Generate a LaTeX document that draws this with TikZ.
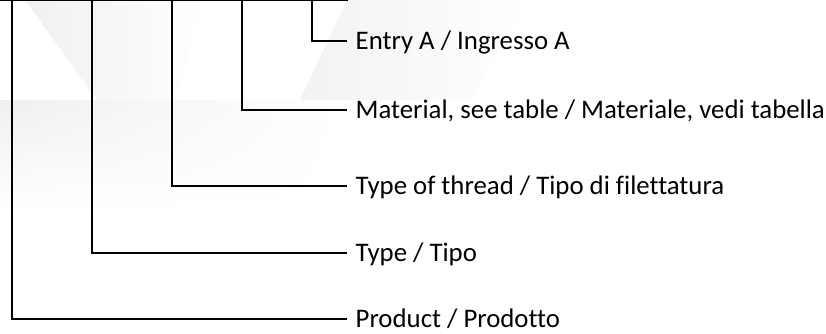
\documentclass[tikz,border=0pt]{standalone}
\usepackage{fontspec}
\setmainfont[Ligatures={NoCommon}]{Carlito}
\usetikzlibrary{fadings}
\begin{document}
\begin{tikzpicture}[x=1pt,y=-1pt,
  lead/.style={line width=2.5pt},
  codebox/.style={draw, line width=2.5pt, minimum height=40pt, inner sep=0pt, anchor=south},
  legend/.style={anchor=west, inner xsep=8.5pt, inner ysep=0pt,
    text height=22.6pt, text depth=5.6pt, font=\fontsize{26.8}{32}\selectfont}]
\useasboundingbox (0,0) rectangle (826,333);

% faint background watermark
\shade[left color=black!6, right color=white] (25,0) -- (97,100) -- (175,100) -- (205,0) -- cycle;
\shade[left color=black!5, right color=white] (347,0) -- (300,100) -- (470,100) -- (530,0) -- cycle;
\shade[top color=black!6, bottom color=white, path fading=east] (0,100) rectangle (340,215);

% code boxes (top row)
\node[codebox, minimum width=70pt] (b1) at (12,1.2) {};
\node[codebox, minimum width=90pt] (b2) at (92,1.2) {};
\node[codebox, minimum width=70pt] (b3) at (172,1.2) {};
\node[codebox, minimum width=70pt] (b4) at (242,1.2) {};
\node[codebox, minimum width=70pt] (b5) at (312,1.2) {};

% legend texts
\node[legend] (t5) at (347,41)  {Entry A / Ingresso A};
\node[legend] (t4) at (347,110) {Material, see table / Materiale, vedi tabella};
\node[legend] (t3) at (347,186) {Type of thread / Tipo di filettatura};
\node[legend] (t2) at (347,253) {Type / Tipo};
\node[legend] (t1) at (347,319) {Product / Prodotto};

% leader lines
\draw[lead] (b1.south) |- (t1.west);
\draw[lead] (b2.south) |- (t2.west);
\draw[lead] (b3.south) |- (t3.west);
\draw[lead] (b4.south) |- (t4.west);
\draw[lead] (b5.south) |- (t5.west);
\end{tikzpicture}
\end{document}
